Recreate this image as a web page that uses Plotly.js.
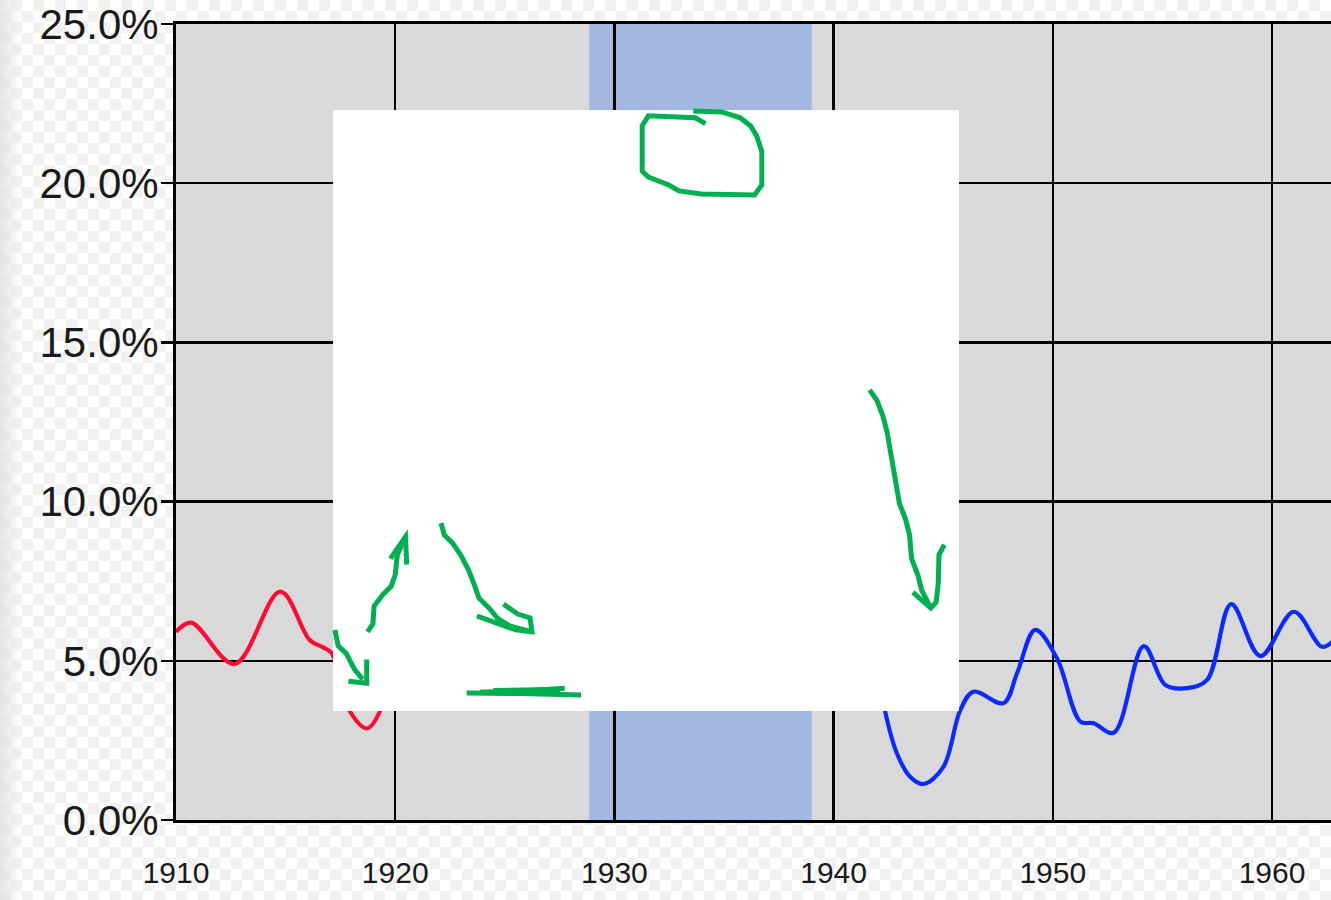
<!DOCTYPE html>
<html>
<head>
<meta charset="utf-8">
<script src="https://cdn.plot.ly/plotly-3.0.1.min.js"></script>
<style>
  html, body { margin: 0; padding: 0; width: 1331px; height: 900px; overflow: hidden; }
  body {
    background-color: #ffffff;
    background-image:
      linear-gradient(to right, #e4e4e4 0px, rgba(255,255,255,0) 22px),
      conic-gradient(#f1f1f1 25%, #ffffff 0 50%, #f1f1f1 0 75%, #ffffff 0);
    background-size: 100% 100%, 22px 22px;
  }
  #chart { width: 1331px; height: 900px; }
</style>
</head>
<body>
<div id="chart"></div>
<script>
// ---- data ----
const redYears   = [1910.0, 1910.69, 1912.67, 1914.76, 1916.1, 1916.69, 1917.09, 1917.92, 1918.71, 1919.29, 1920.0];
const redValues  = [5.91,   6.20,    4.90,    7.17,    5.65,   5.43,    5.25,    3.43,    2.88,    3.40,    6.0];

const blueYears  = [1941.3, 1942.35, 1942.89, 1943.49, 1944.10, 1945.01, 1945.78, 1946.38, 1947.75, 1948.37, 1949.20, 1950.19, 1951.26, 1951.86, 1952.78, 1954.15, 1955.14, 1956.13, 1957.04, 1958.14, 1959.47, 1961.0, 1962.29, 1962.9];
const blueValues = [8.0,    3.42,    2.09,    1.36,    1.13,    1.67,    3.45,    4.03,    3.67,    4.61,    5.97,    5.08,    3.09,    3.04,    2.74,    5.46,    4.24,    4.14,    4.40,    6.78,    5.15,    6.54,   5.44,    5.7];

const depressionBand = [1928.85, 1939.0];

const xTickVals  = [1910, 1920, 1930, 1940, 1950, 1960];
const xTickText  = ["1910", "1920", "1930", "1940", "1950", "1960"];
const yTickVals  = [0, 5, 10, 15, 20, 25];
const yTickText  = ["0.0%", "5.0%", "10.0%", "15.0%", "20.0%", "25.0%"];

// ---- overlay scribbles (pixel space of the page) ----
const PL = 176, PT = 24, PW = 1155, PH = 796;
function P(pt) { return [(pt[0] - PL) / PW, (PT + PH - pt[1]) / PH]; }
function pathOf(pts) {
  return pts.map((p, i) => { const q = P(p); return (i ? 'L' : 'M') + q[0].toFixed(5) + ',' + q[1].toFixed(5); }).join(' ');
}
const whiteBox = [[333, 110], [959, 711]];
const strokes = [
  // loop at top
  [[705.5,123.7],[695.3,117.8],[648.4,115.8],[642.2,125.7],[642.2,171.2],[648.4,177.1],[668.8,185],[679,190.9],[701.4,194.1],[754.5,194.9],[761.8,185],[761.8,151.4],[756.5,135.6],[750.4,125.7],[740.2,117.8],[721.8,111.9],[693.3,111.1]],
  // small down-right arrow
  [[334.9,629.9],[338.2,645.7],[346.3,653.6],[354.5,669.4],[362.7,679.3]],
  [[366.7,659.5],[366.7,683.2],[348.4,681.3]],
  // up arrow
  [[367.6,631.8],[372.9,623.9],[374.1,606.1],[383.1,594.3],[391.2,586.4],[395.3,574.5],[397.3,554.7],[405.5,536.9]],
  [[390.4,558.7],[405.5,536.9],[406.7,564.6]],
  // down-right arrow with open head
  [[441,523.1],[444.3,535],[452.4,542.9],[460.6,554.7],[468.8,570.5],[474.9,586.4],[479,598.2],[489.2,608.1],[497.3,618],[509.6,625.9],[532,631.8]],
  [[503.5,604.1],[517.8,614],[530,618],[532,631.8],[515.7,629.9],[493.3,621.9],[476.9,616]],
  // bottom stroke
  [[466.7,693.1],[520,693.5],[581,695.1]],
  [[480,692.2],[530,690.4],[564.7,688.2]],
  [[493.3,690.5],[560,689.5]],
  // long right arrow
  [[869.6,389.8],[877,400.5],[883,416.3],[887.1,432.1],[891.2,455.9],[895.3,479.6],[899.4,503.3],[905.5,519.1],[909.6,535],[911.6,558.7],[917.7,574.5],[921.8,590.3],[930.8,608.1]],
  [[912.9,592.3],[930.8,608.1],[936.1,602.2],[938.2,584.4],[939,554.7],[944.3,544.8]]
];

const shapes = [
  { type: 'rect', xref: 'x', yref: 'paper', x0: depressionBand[0], x1: depressionBand[1], y0: 0, y1: 1,
    fillcolor: '#a3b8e0', line: { width: 0 }, layer: 'below' },
  { type: 'rect', xref: 'paper', yref: 'paper',
    x0: P(whiteBox[0])[0], y0: P(whiteBox[1])[1], x1: P(whiteBox[1])[0], y1: P(whiteBox[0])[1],
    fillcolor: '#ffffff', line: { width: 0 }, layer: 'above' }
];
strokes.forEach(s => shapes.push({
  type: 'path', xref: 'paper', yref: 'paper', path: pathOf(s),
  line: { color: '#00b050', width: 5 }, layer: 'above'
}));

const traces = [
  { x: redYears, y: redValues, type: 'scatter', mode: 'lines',
    line: { color: '#ff0a35', width: 4.2, shape: 'spline', smoothing: 1 }, hoverinfo: 'skip' },
  { x: blueYears, y: blueValues, type: 'scatter', mode: 'lines',
    line: { color: '#0a2aff', width: 4.2, shape: 'spline', smoothing: 1 }, hoverinfo: 'skip' }
];

const layout = {
  width: 1331, height: 900,
  margin: { l: PL, r: 0, t: PT, b: 900 - PT - PH },
  paper_bgcolor: 'rgba(0,0,0,0)',
  plot_bgcolor: '#d9d9d9',
  showlegend: false,
  hovermode: false,
  xaxis: {
    range: [1910, 1910 + PW / 21.92],
    tickvals: xTickVals, ticktext: xTickText,
    showgrid: true, gridcolor: '#000000', gridwidth: 2.5,
    showline: true, linecolor: '#000000', linewidth: 3, mirror: true,
    zeroline: false, ticks: '', ticklabelstandoff: 24,
    tickfont: { family: 'Liberation Sans, Arial, sans-serif', size: 30, color: '#1a1a1a' }
  },
  yaxis: {
    range: [0, 25.0005],
    tickvals: yTickVals, ticktext: yTickText,
    showgrid: true, gridcolor: '#000000', gridwidth: 2.5,
    showline: true, linecolor: '#000000', linewidth: 3,
    zeroline: false, ticks: 'outside', ticklen: 12, tickwidth: 2.5, tickcolor: '#000000',
    ticklabelstandoff: -6,
    tickfont: { family: 'Liberation Sans, Arial, sans-serif', size: 42, color: '#1a1a1a' }
  },
  shapes: shapes
};

Plotly.newPlot('chart', traces, layout, { staticPlot: true, displayModeBar: false });
</script>
</body>
</html>
